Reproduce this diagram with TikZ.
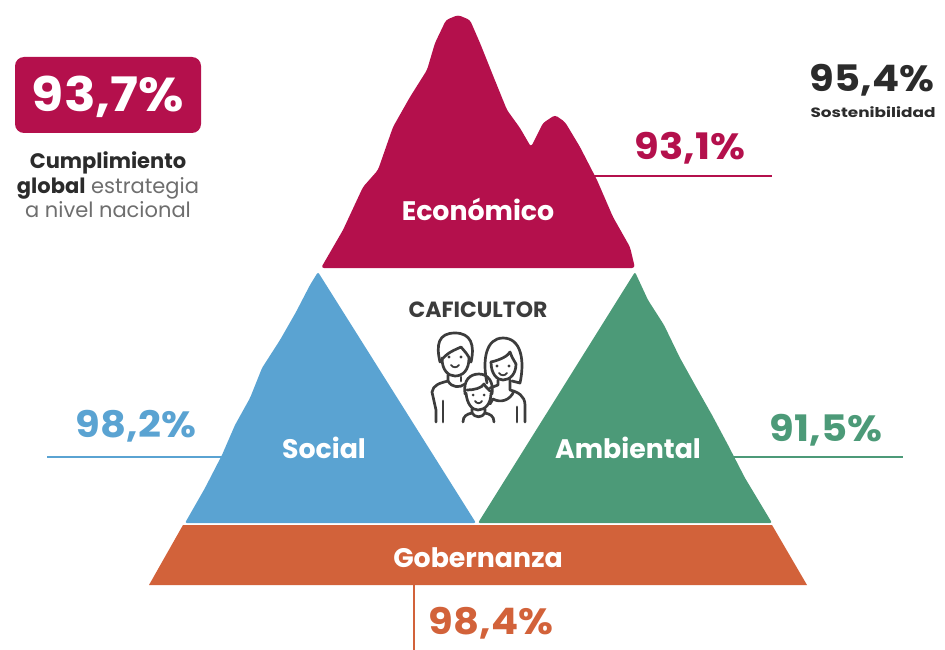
\documentclass[tikz,border=0pt]{standalone}
\usepackage{fontspec}
\setmainfont{Poppins}
\newfontfamily\widea[FakeStretch=1.1]{Poppins}
\newfontfamily\wideb[FakeStretch=1.25]{Poppins}
\definecolor{crim}{HTML}{B4104C}
\definecolor{soc}{HTML}{5AA3D2}
\definecolor{amb}{HTML}{4C9A78}
\definecolor{gob}{HTML}{D2623A}
\definecolor{ink}{HTML}{2B2B2B}
\definecolor{greytxt}{HTML}{6E6E6E}
\definecolor{icon}{HTML}{3C3C3C}
\tikzset{
 x=1pt,y=-1pt,
 pct/.style={font=\widea\bfseries\fontsize{36.5}{40}\selectfont,inner sep=0pt,anchor=base},
 white label/.style={text=white,font=\bfseries\fontsize{26.8}{30}\selectfont,inner sep=0pt},
 leader/.style={line width=2pt},
 iconline/.style={draw=icon,line width=2.7pt,line cap=round,line join=round,fill=none},
}
\begin{document}
\begin{tikzpicture}
\useasboundingbox (0,0) rectangle (945,650);
% mountains
\fill[crim,rounded corners=3pt] (321,268) -- (343,230) -- (363,187) -- (378,170) -- (393,127) -- (410,97) -- (427,70) -- (435,43) -- (446,20) -- (458,15) -- (470,20) -- (480,43) -- (492,73) -- (507,110) -- (520,128) -- (531,147) -- (543,123) -- (555,115) -- (565,122) -- (580,147) -- (597,180) -- (613,217) -- (630,247) -- (635,268) -- cycle;
\fill[soc,rounded corners=2pt] (318,272) -- (476,523) -- (185,523) -- (205,488) -- (222,455) -- (235,425) -- (250,398) -- (262,368) -- (280,340) -- (296,312) -- (310,285) -- cycle;
\fill[amb,rounded corners=2pt] (635,272) -- (648,300) -- (664,325) -- (680,358) -- (695,385) -- (712,415) -- (728,445) -- (745,478) -- (772,523) -- (478,523) -- cycle;
\fill[gob] (183,525) -- (772,525) -- (807,585) -- (149,585) -- cycle;
% anchors
\coordinate (ecoA) at (592,176); \coordinate (ecoB) at (772,176);
\coordinate (socA) at (47,457); \coordinate (socB) at (225,457);
\coordinate (ambA) at (732,457); \coordinate (ambB) at (903,457);
\coordinate (gobA) at (414,585); \coordinate (gobB) at (414,650);
\draw[leader,crim] (ecoA) -- (ecoB);
\draw[leader,soc] (socA) -- (socB);
\draw[leader,amb] (ambA) -- (ambB);
\draw[leader,gob] (gobA) -- (gobB);
% labels
\node[white label] (eco) at (478,209) {Económico};
\node[white label] (socl) at (324,448) {Social};
\node[white label] (ambl) at (628,448) {Ambiental};
\node[white label] (gobl) at (478,558) {Gobernanza};
\node[pct,text=crim] (p1) at (690,160) {93,1\%};
\node[pct,text=soc] (p2) at (136,437) {98,2\%};
\node[pct,text=amb] (p3) at (826,441) {91,5\%};
\node[pct,text=gob] (p4) at (491,634) {98,4\%};
\node[pct,text=ink] (p5) at (872,92) {95,4\%};
\node[text=ink,font=\wideb\bfseries\fontsize{13.5}{15}\selectfont,inner sep=0pt] (sos) at (873,112) {Sostenibilidad};
% box
\node[fill=crim,rounded corners=9pt,minimum width=186pt,minimum height=76pt,inner sep=0,text=white] (box) at (108,95) {};
\node[text=white,font=\widea\bfseries\fontsize{47.5}{50}\selectfont,inner sep=0pt,anchor=base] (boxt) at (108,112) {93,7\%};
\node[align=center,inner sep=0pt,text=greytxt,font=\fontsize{21}{24.5}\selectfont] (cap) at (108,185) {{\bfseries\color{ink}Cumplimiento}\\{\bfseries\color{ink}global} estrategia\\a nivel nacional};
\node[text=icon,font=\bfseries\fontsize{22}{24}\selectfont,inner sep=0pt] (caf) at (478,310) {CAFICULTOR};
% family icon
% father
\draw[iconline] (440,362) .. controls (436,345) and (438,333) .. (455,333) .. controls (471,333) and (475,345) .. (471,362);
\draw[iconline] (440,362) .. controls (447,352) and (455,350) .. (461,347) .. controls (465,352) and (468,354) .. (471,362);
\draw[iconline] (442,358) .. controls (442,370) and (448,376) .. (455,376) .. controls (463,376) and (469,370) .. (469,358);
\draw[iconline] (448,375) -- (448,381) .. controls (440,383) and (433,385) .. (432,392) -- (436,410) -- (436,422);
\draw[iconline] (448,381) .. controls (452,388) and (460,388) .. (465,384);
\draw[iconline] (461,377) -- (461,381);
\draw[iconline] (443,401) -- (443,422);
% mother
\draw[iconline] (487,383) .. controls (482,360) and (486,338) .. (503,338) .. controls (521,338) and (525,360) .. (520,383) -- (512,381);
\draw[iconline] (491,362) .. controls (500,360) and (508,356) .. (510,352) .. controls (512,358) and (515,362) .. (516,364);
\draw[iconline] (491,362) .. controls (491,374) and (497,380) .. (503,380) .. controls (510,380) and (516,374) .. (516,364);
\draw[iconline] (498,380) -- (498,385) -- (490,388);
\draw[iconline] (510,380) -- (510,390) .. controls (518,392) and (525,396) .. (525,405) -- (525,422);
\draw[iconline] (493,399) .. controls (500,403) and (510,401) .. (514,391);
\draw[iconline] (517,407) -- (517,422);
\draw[iconline] (493,399) -- (490,404);
% child
\draw[iconline] (465,394) .. controls (463,380) and (470,374) .. (479,374) .. controls (488,374) and (494,382) .. (492,394);
\draw[iconline] (467,390) .. controls (474,390) and (482,388) .. (484,384) .. controls (486,388) and (489,389) .. (490,391);
\draw[iconline] (466,393) .. controls (467,404) and (472,410) .. (478,410) .. controls (485,410) and (491,404) .. (491,393);
\draw[iconline] (472,409) -- (472,413) .. controls (467,414) and (463,416) .. (463,422);
\draw[iconline] (485,409) -- (485,413) .. controls (490,414) and (494,416) .. (494,422);
\draw[iconline] (472,413) .. controls (475,418) and (482,418) .. (485,413);
% eyes and smiles
\fill[icon] (449,357) circle (1.7) (461,357) circle (1.7) (497,366) circle (1.7) (509,366) circle (1.7) (473,395) circle (1.5) (484,395) circle (1.5);
\draw[iconline,line width=1.8pt] (451,365) .. controls (453,368) and (457,368) .. (459,365);
\draw[iconline,line width=1.8pt] (499,373) .. controls (501,376) and (505,376) .. (507,373);
\draw[iconline,line width=1.8pt] (475,401) .. controls (477,404) and (480,404) .. (482,401);
\end{tikzpicture}
\end{document}
